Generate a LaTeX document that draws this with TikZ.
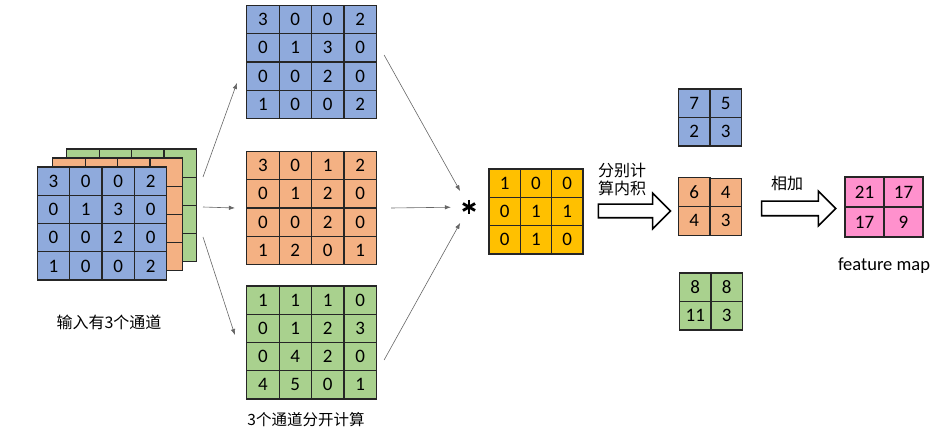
\documentclass[tikz,border=0pt]{standalone}
\usepackage{fontspec}
\setmainfont{Carlito}
\newfontfamily\cjk{Noto Sans CJK SC}
\usetikzlibrary{matrix,shapes.arrows,arrows.meta}

\definecolor{chblue}{RGB}{143,170,220}
\definecolor{chorange}{RGB}{244,177,131}
\definecolor{chgreen}{RGB}{169,209,142}
\definecolor{kyellow}{RGB}{255,192,0}
\definecolor{fpink}{RGB}{255,145,205}

\tikzset{
  cell/.style={draw=black!85, line width=1.2pt, minimum width=32.4pt, minimum height=28.2pt, inner sep=0pt, font=\fontsize{19}{19}\selectfont},
  chanmat/.style={matrix of nodes, inner sep=0pt, column sep=-1.2pt, row sep=-1.2pt, nodes={cell, fill=#1}},
  link/.style={draw=black!60, line width=0.6pt, -{Latex[length=6pt,width=4.5pt]}},
  bigarrow/.style={single arrow, draw=black, line width=1.6pt, fill=white, inner sep=0pt, inner ysep=6pt, minimum height=72pt, single arrow head extend=11pt},
  cjklabel/.style={font=\cjk\fontsize{16}{18}\selectfont, inner sep=0pt},
}

\begin{document}
\begin{tikzpicture}[x=1pt, y=-1pt]
        \useasboundingbox (0,0) rectangle (948,438);

        % Input with 3 channels (stacked)
        \matrix[chanmat=chgreen, nodes in empty cells] (backG) at (131.5,205.5) {
          & & & \\ & & & \\ & & & \\ & & & \\
        };
        \matrix[chanmat=chorange, nodes in empty cells] (backO) at (117.5,214.5) {
          & & & \\ & & & \\ & & & \\ & & & \\
        };
        \matrix[chanmat=chblue] (front) at (102,223.5) {
          3 & 0 & 0 & 2 \\ 0 & 1 & 3 & 0 \\ 0 & 0 & 2 & 0 \\ 1 & 0 & 0 & 2 \\
        };
        \node[cjklabel] (inlabel) at (109,322) {输入有3个通道};

        % Channels computed separately
        \matrix[chanmat=chblue] (top) at (311.5,62) {
          3 & 0 & 0 & 2 \\ 0 & 1 & 3 & 0 \\ 0 & 0 & 2 & 0 \\ 1 & 0 & 0 & 2 \\
        };
        \matrix[chanmat=chorange] (mid) at (311.5,208) {
          3 & 0 & 1 & 2 \\ 0 & 1 & 2 & 0 \\ 0 & 0 & 2 & 0 \\ 1 & 2 & 0 & 1 \\
        };
        \matrix[chanmat=chgreen] (bot) at (311.5,342.5) {
          1 & 1 & 1 & 0 \\ 0 & 1 & 2 & 3 \\ 0 & 4 & 2 & 0 \\ 4 & 5 & 0 & 1 \\
        };
        \node[cjklabel, font=\cjk\fontsize{15.5}{18}\selectfont] (seplabel) at (306,420) {3个通道分开计算};

        % Convolution kernel
        \node[circle, minimum size=36pt, inner sep=0pt] (star) at (469,207) {};
        \foreach \a in {90,30,-30}
          \draw[line width=2.8pt] ([shift={(\a:7pt)}]star.center) -- ([shift={(\a+180:7pt)}]star.center);
        \matrix[chanmat=kyellow, nodes={minimum width=31.3pt, minimum height=28.3pt}] (kernel) at (536,211.5) {
          1 & 0 & 0 \\ 0 & 1 & 1 \\ 0 & 1 & 0 \\
        };

        % Inner products per channel
        \node[bigarrow] (split) at (631,211) {};
        \node[cjklabel, align=left, anchor=west] (splittext) at (598,179) {分别计\\算内积};
        \matrix[chanmat=chblue, nodes={minimum width=31.5pt, minimum height=28.5pt}] (outB) at (710,117.5) {
          7 & 5 \\ 2 & 3 \\
        };
        \matrix[chanmat=chorange, nodes={minimum width=31.5pt, minimum height=28.5pt}] (outO) at (710,206.5) {
          6 & 4 \\ 4 & 3 \\
        };
        \matrix[chanmat=chgreen, nodes={minimum width=31.5pt, minimum height=28.5pt}] (outG) at (711,301.5) {
          8 & 8 \\ 11 & 3 \\
        };

        % Sum -> feature map
        \node[bigarrow, minimum height=74pt, inner ysep=6.5pt, single arrow head extend=10pt] (add) at (795,208.5) {};
        \node[cjklabel] (addtext) at (787,183) {相加};
        \matrix[chanmat=fpink, nodes={minimum width=39pt, minimum height=30pt}] (fmap) at (884,207) {
          21 & 17 \\ 17 & 9 \\
        };
        \node[font=\fontsize{18.5}{18.5}\selectfont, inner sep=0pt] (fmaplabel) at (884,266) {feature map};

        % Arrows
        \coordinate (fork) at (203,207);
        \draw[link] ([yshift=30pt]fork) -- ([shift={(-9pt,-21pt)}]top.west);
        \draw[link] (fork) -- ([xshift=-11pt]mid.west);
        \draw[link] ([yshift=-30pt]fork) -- ([shift={(-11pt,7.5pt)}]bot.west);
        \draw[link] ([shift={(7pt,7pt)}]top.east) -- (star);
        \draw[link] ([xshift=14pt]mid.east) -- (star);
        \draw[link] ([shift={(7pt,-17.5pt)}]bot.east) -- (star);
    \end{tikzpicture}
\end{document}
